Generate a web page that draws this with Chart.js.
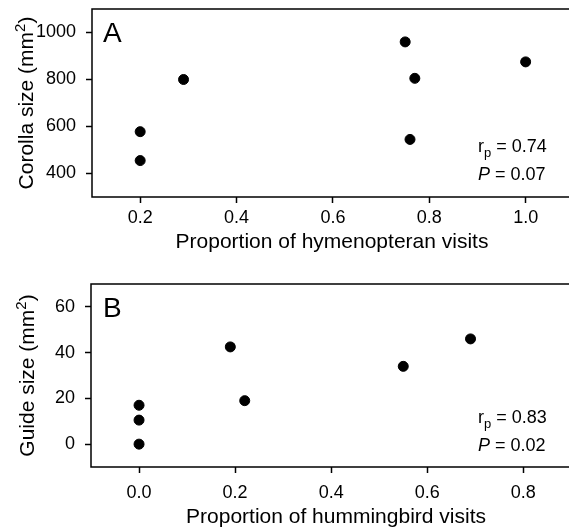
<!DOCTYPE html>
<html>
<head>
    <title>Corolla and guide size</title>
    <script src="https://cdn.jsdelivr.net/npm/chart.js"></script>
    <style>
        body { margin: 0; background: #fff; }
        .figure {
            position: relative;
            width: 569px;
            height: 530px;
            overflow: hidden;
        }
        .figure canvas { position: absolute; left: 0; }
    </style>
</head>
<body>
    <div class="figure">
        <canvas id="panelA" width="569" height="265" style="top:0"></canvas>
        <canvas id="panelB" width="569" height="265" style="top:265px"></canvas>
    </div>

    <script>
        // panel A data
        var hymenopteranProp = [0.2, 0.2, 0.29, 0.75, 0.77, 0.76, 1.0];
        var corollaSize = [578, 455, 800, 960, 805, 545, 875];
        var corollaTicksX = [0.2, 0.4, 0.6, 0.8, 1.0];
        var corollaTicksY = [400, 600, 800, 1000];
        var statsA = ["0.74", "0.07"];

        // panel B data
        var hummingbirdProp = [0.0, 0.0, 0.0, 0.19, 0.22, 0.55, 0.69];
        var guideSize = [17, 10.5, 0, 42.5, 19, 34, 46];
        var guideTicksX = [0.0, 0.2, 0.4, 0.6, 0.8];
        var guideTicksY = [0, 20, 40, 60];
        var statsB = ["0.83", "0.02"];

        var FONT = "'Liberation Sans', Arial, sans-serif";

        // draws the frame, panel letter, axis titles and the r/P text
        var panelDecor = {
            id: "panelDecor",
            afterDraw: function (chart) {
                var o = chart.options.plugins.panelDecor;
                var ctx = chart.ctx;
                var a = chart.chartArea;
                ctx.save();
                // the frame is cut off at the right edge of the figure
                ctx.strokeStyle = "#000";
                ctx.lineWidth = 1.5;
                ctx.beginPath();
                ctx.moveTo(chart.width, a.top);
                ctx.lineTo(a.left, a.top);
                ctx.lineTo(a.left, a.bottom);
                ctx.lineTo(chart.width, a.bottom);
                ctx.stroke();

                ctx.fillStyle = "#000";
                ctx.textBaseline = "alphabetic";

                // panel letter
                ctx.font = "28px " + FONT;
                ctx.textAlign = "left";
                ctx.fillText(o.letter, o.letterX, o.letterY);

                // x title
                ctx.font = "21px " + FONT;
                ctx.textAlign = "center";
                ctx.fillText(o.xTitle, o.xTitleX, o.xTitleY);

                // y title with superscript 2
                ctx.save();
                ctx.translate(o.yTitleX, (a.top + a.bottom) / 2);
                ctx.rotate(-Math.PI / 2);
                ctx.textAlign = "left";
                ctx.font = "21px " + FONT;
                var w1 = ctx.measureText(o.yTitle).width;
                var w3 = ctx.measureText(")").width;
                ctx.font = "15px " + FONT;
                var w2 = ctx.measureText("2").width;
                var x = -(w1 + w2 + w3) / 2;
                ctx.font = "21px " + FONT;
                ctx.fillText(o.yTitle, x, 0);
                ctx.font = "15px " + FONT;
                ctx.fillText("2", x + w1, -8);
                ctx.font = "21px " + FONT;
                ctx.fillText(")", x + w1 + w2, 0);
                ctx.restore();

                // r_p and P lines
                var sx = o.statsX;
                ctx.textAlign = "left";
                ctx.font = "18px " + FONT;
                ctx.fillText("r", sx, o.statsY);
                var wr = ctx.measureText("r").width;
                ctx.font = "13px " + FONT;
                ctx.fillText("p", sx + wr, o.statsY + 5);
                var wp = ctx.measureText("p").width;
                ctx.font = "18px " + FONT;
                ctx.fillText(" = " + o.stats[0], sx + wr + wp, o.statsY);

                ctx.font = "italic 18px " + FONT;
                ctx.fillText("P", sx, o.statsY + 28);
                var wP = ctx.measureText("P").width;
                ctx.font = "18px " + FONT;
                ctx.fillText(" = " + o.stats[1], sx + wP, o.statsY + 28);
                ctx.restore();
            }
        };

        function makePanel(canvasId, xs, ys, xRange, yRange, ticksX, ticksY, layout, decor) {
            var points = xs.map(function (v, i) { return { x: v, y: ys[i] }; });
            var canvas = document.getElementById(canvasId);
            var tickGrid = {
                drawOnChartArea: false,
                drawTicks: true,
                tickLength: 6,
                tickWidth: 1.5,
                tickColor: "#000",
                color: "#000"
            };
            return new Chart(canvas.getContext("2d"), {
                type: "scatter",
                data: {
                    datasets: [{
                        data: points,
                        backgroundColor: "#000",
                        borderColor: "#000",
                        pointRadius: 5,
                        pointHoverRadius: 5,
                        clip: false
                    }]
                },
                options: {
                    responsive: false,
                    animation: false,
                    layout: {
                        autoPadding: false,
                        padding: { top: layout.top, right: 0, left: 0, bottom: 0 }
                    },
                    plugins: {
                        legend: { display: false },
                        tooltip: { enabled: false },
                        panelDecor: decor
                    },
                    scales: {
                        x: {
                            type: "linear",
                            min: xRange[0],
                            max: xRange[1],
                            grid: tickGrid,
                            border: { display: false },
                            ticks: {
                                padding: layout.xPad,
                                color: "#000",
                                font: { family: FONT, size: 18 },
                                callback: function (v) { return v.toFixed(1); }
                            },
                            afterBuildTicks: function (s) {
                                s.ticks = ticksX.map(function (v) { return { value: v }; });
                            },
                            afterFit: function (s) {
                                s.height = canvas.height - layout.bottom;
                                s.paddingLeft = 0;
                                s.paddingRight = 0;
                            }
                        },
                        y: {
                            type: "linear",
                            min: yRange[0],
                            max: yRange[1],
                            grid: tickGrid,
                            border: { display: false },
                            ticks: {
                                padding: 10,
                                color: "#000",
                                font: { family: FONT, size: 18 },
                                callback: function (v) { return String(v); }
                            },
                            afterBuildTicks: function (s) {
                                s.ticks = ticksY.map(function (v) { return { value: v }; });
                            },
                            afterFit: function (s) {
                                s.width = layout.left;
                                s.paddingTop = 0;
                                s.paddingBottom = 0;
                            }
                        }
                    }
                },
                plugins: [panelDecor]
            });
        }

        // the visible x range stops where the figure is cut off on the right
        makePanel("panelA", hymenopteranProp, corollaSize, [0.1, 1.09], [300, 1100],
            corollaTicksX, corollaTicksY,
            { top: 9, bottom: 197, left: 92, xPad: 4 },
            {
                letter: "A", letterX: 103, letterY: 42,
                xTitle: "Proportion of hymenopteran visits", xTitleX: 332, xTitleY: 248,
                yTitle: "Corolla size (mm", yTitleX: 33,
                stats: statsA, statsX: 478, statsY: 152
            });

        makePanel("panelB", hummingbirdProp, guideSize, [-0.1, 0.895], [-10, 70],
            guideTicksX, guideTicksY,
            { top: 19, bottom: 202, left: 91, xPad: 9 },
            {
                letter: "B", letterX: 103, letterY: 52,
                xTitle: "Proportion of hummingbird visits", xTitleX: 336, xTitleY: 258,
                yTitle: "Guide size (mm", yTitleX: 34,
                stats: statsB, statsX: 478, statsY: 158
            });
    </script>
</body>
</html>
